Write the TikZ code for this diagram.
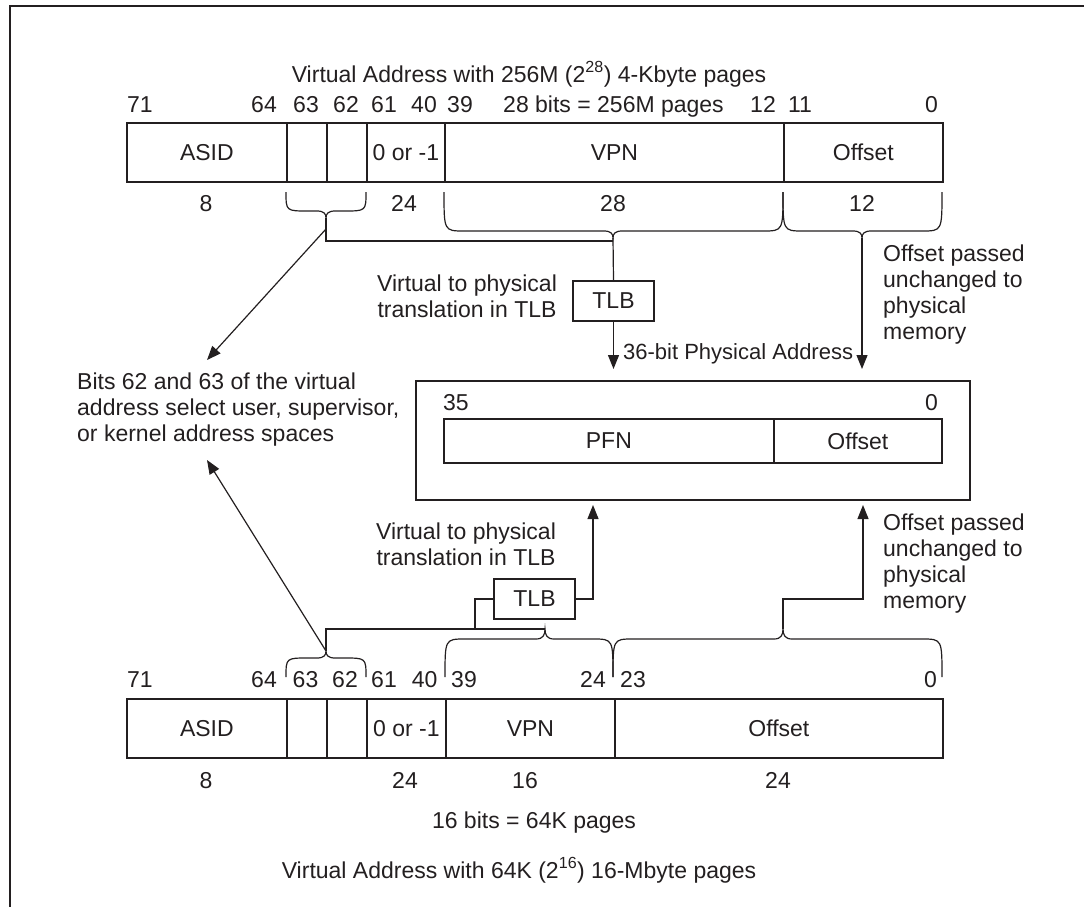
\documentclass[tikz,border=0pt]{standalone}
\usepackage{fontspec}
\setmainfont{Liberation Sans}
\usetikzlibrary{arrows.meta}
\definecolor{ink}{RGB}{35,31,32}

% curly brace: #1 left x, #2 right x, #3 tip x, #4 end y, #5 flat y, #6 tip y, #7 corner radius
\newcommand\curlybrace[7]{%
  \draw[bracepath] (#1,#4) .. controls (#1,#5) and (#1,#5) .. ({#1+#7},#5)
    -- ({#3-9},#5) .. controls ({#3-2},#5) and (#3,{#5+0.4*(#6-#5)}) .. (#3,#6)
    .. controls (#3,{#5+0.4*(#6-#5)}) and ({#3+2},#5) .. ({#3+9},#5)
    -- ({#2-#7},#5) .. controls (#2,#5) and (#2,#5) .. (#2,#4);}

% register field: #1 name, #2 left x, #3 right x, #4 top y, #5 bottom y, #6 label
\newcommand\regfield[6]{%
  \node[field, anchor=north west, minimum width={#3-#2}, minimum height={#5-#4}] (#1) at (#2,#4) {#6};}

\begin{document}
\begin{tikzpicture}[x=1pt,y=-1pt,
  every node/.style={text=ink, font=\fontsize{23}{26}\selectfont, inner sep=0pt},
  field/.style={draw=ink, line width=1.8pt},
  wire/.style={draw=ink, line width=1.2pt},
  bracepath/.style={draw=ink, line width=1.2pt},
  arr/.style={wire, -{Triangle[length=14pt,width=11pt]}},
  tlbbox/.style={draw=ink, line width=1.8pt, minimum width=81pt, minimum height=40pt},
]
\useasboundingbox (0,0) rectangle (1084,907);

% figure frame (left and top rules)
\draw[ink, line width=2.6pt] (10,907) -- (10,6) -- (1084,6);

% ---------- 4-Kbyte page virtual address ----------
\node[anchor=base] (title1) at (529,82) {Virtual Address with 256M (2\textsuperscript{28}) 4-Kbyte pages};

\node[anchor=base west] (a71) at (127,112) {71};
\node[anchor=base east] (a64) at (277,112) {64};
\node[anchor=base] (a63) at (306,112) {63};
\node[anchor=base] (a62) at (346,112) {62};
\node[anchor=base] (a61) at (384,112) {61};
\node[anchor=base] (a40) at (424,112) {40};
\node[anchor=base] (a39) at (460,112) {39};
\node[anchor=base] (avpnbits) at (613.5,112) {28 bits = 256M pages};
\node[anchor=base] (a12) at (763,112) {12};
\node[anchor=base] (a11) at (800,112) {11};
\node[anchor=base east] (a0) at (938,112) {0};

\regfield{asidA}{126}{286}{122}{181}{ASID}
\regfield{r63A}{286}{326}{122}{181}{}
\regfield{r62A}{326}{366}{122}{181}{}
\regfield{signA}{366}{444}{122}{181}{0 or -1}
\regfield{vpnA}{444}{783}{122}{181}{VPN}
\regfield{offA}{783}{942}{122}{181}{Offset}

\node[anchor=base] (wA8) at (206,211) {8};
\node[anchor=base] (wA24) at (404,211) {24};
\node[anchor=base] (wA28) at (613,211) {28};
\node[anchor=base] (wA12) at (862,211) {12};

\curlybrace{286}{366}{326}{192}{211}{218}{22}
\curlybrace{444}{783}{613}{192}{231}{238}{20}
\curlybrace{783}{942}{862}{192}{231}{238}{20}
\coordinate (tipS1) at (326,218);
\coordinate (tipV1) at (613,238);
\coordinate (tipO1) at (862,238);
\coordinate (join1) at (613,241);
\coordinate (diag1) at (326,229);
\coordinate (bitsTip1) at (207,360);

\node[tlbbox] (tlb1) at (613.5,301) {TLB};
\node[anchor=north, align=center] (xlate1) at (467,275) {Virtual to physical\\translation in TLB};
\node[anchor=base west, font=\fontsize{22}{26}\selectfont] (pa36) at (623,359) {36-bit Physical Address};
\node[anchor=north west, align=left] (offtxt1) at (883,245)
  {\fontsize{23}{25.5}\selectfont Offset passed\\unchanged to\\physical\\memory};

% ---------- physical address ----------
\node[field, anchor=north west, minimum width=554, minimum height=119] (phys) at (415,380) {};
\node[anchor=base west] (p35) at (443,410) {35};
\node[anchor=base east] (p0) at (938,410) {0};
\regfield{pfn}{443}{773}{418}{462}{PFN}
\regfield{poff}{773}{941}{418}{462}{Offset}

\node[anchor=north west, align=left] (bitsnote) at (77,373)
  {\fontsize{23}{28}\selectfont Bits 62 and 63 of the virtual\\address select user, supervisor,\\or kernel address spaces};

% connectors, 4-Kbyte pages
\draw[wire] (tipS1) |- (join1);
\draw[wire] (tipV1) -- (tlb1.north);
\draw[arr, shorten >=11pt] (tlb1.south) -- (tlb1.south |- phys.north);
\draw[arr, shorten >=11pt] (tipO1) -- (tipO1 |- phys.north);
\draw[arr] (diag1) -- (bitsTip1);

% ---------- 16-Mbyte page virtual address ----------
\node[tlbbox] (tlb2) at (534.5,599) {TLB};
\node[anchor=north, align=center] (xlate2) at (466,523) {Virtual to physical\\translation in TLB};
\node[anchor=north west, align=left] (offtxt2) at (883,514)
  {\fontsize{23}{25.5}\selectfont Offset passed\\unchanged to\\physical\\memory};

\curlybrace{286}{366}{326}{677}{658}{651}{22}
\curlybrace{445}{613}{545}{677}{639}{629}{20}
\curlybrace{613}{942}{783}{677}{639}{629}{20}
\coordinate (tipS2) at (326,651);
\coordinate (tipV2) at (545,629);
\coordinate (tipO2) at (783,629);
\coordinate (join2) at (475,629);
\coordinate (inL) at (593,505);
\coordinate (inR) at (863,505);
\coordinate (bitsTip2) at (207,460);

\draw[wire] (tipS2) |- (tipV2);
\draw[wire] (join2) |- (tlb2.west);
\draw[arr] (tlb2.east) -| (inL);
\draw[arr] (tipO2) -- ++(0,-30) -| (inR);
\draw[arr] (tipS2) -- (bitsTip2);

\node[anchor=base west] (b71) at (127,687) {71};
\node[anchor=base east] (b64) at (277,687) {64};
\node[anchor=base] (b63) at (305.5,687) {63};
\node[anchor=base] (b62) at (345,687) {62};
\node[anchor=base] (b61) at (384,687) {61};
\node[anchor=base] (b40) at (424.7,687) {40};
\node[anchor=base] (b39) at (464,687) {39};
\node[anchor=base] (b24) at (593,687) {24};
\node[anchor=base] (b23) at (633,687) {23};
\node[anchor=base east] (b0) at (937,687) {0};

\regfield{asidB}{126}{286}{698}{757}{ASID}
\regfield{r63B}{286}{326}{698}{757}{}
\regfield{r62B}{326}{366}{698}{757}{}
\regfield{signB}{366}{445}{698}{757}{0 or -1}
\regfield{vpnB}{445}{614}{698}{757}{VPN}
\regfield{offB}{614}{942}{698}{757}{Offset}

\node[anchor=base] (wB8) at (206,788) {8};
\node[anchor=base] (wB24) at (405,788) {24};
\node[anchor=base] (wB16) at (525,788) {16};
\node[anchor=base] (wB24o) at (778,788) {24};

\node[anchor=base] (vpnbitsB) at (534,828) {16 bits = 64K pages};
\node[anchor=base] (title2) at (519,878) {Virtual Address with 64K (2\textsuperscript{16}) 16-Mbyte pages};
\end{tikzpicture}
\end{document}
